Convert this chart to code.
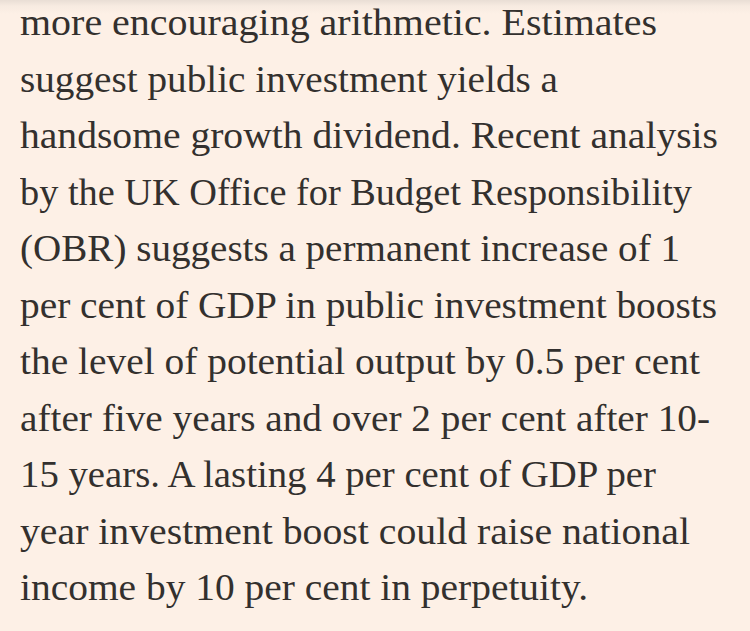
<!DOCTYPE html>
<html>
<head>
<meta charset="utf-8">
<script src="https://cdn.jsdelivr.net/npm/chart.js@4"></script>
<style>
  html, body { margin: 0; padding: 0; }
  body {
    width: 750px; height: 631px; overflow: hidden; position: relative;
    background: linear-gradient(to bottom, #e9ded5 0px, #f7ebe1 6px, #fdf0e6 14px, #fdf0e6 100%);
  }
  #para {
    position: absolute; left: 20px; top: -6px;
    font-family: "Liberation Serif", "Times New Roman", serif;
    font-size: 38px; line-height: 56.5px; color: #33302e;
  }
  .ln { white-space: nowrap; height: 56.5px; }
  .ln span { display: inline-block; transform-origin: 0 50%; }
</style>
</head>
<body>
<div id="para"></div>
<script>
// ─── Content ─────────────────────────────────────────────
const lines = [
  "more encouraging arithmetic. Estimates",
  "suggest public investment yields a",
  "handsome growth dividend. Recent analysis",
  "by the UK Office for Budget Responsibility",
  "(OBR) suggests a permanent increase of 1",
  "per cent of GDP in public investment boosts",
  "the level of potential output by 0.5 per cent",
  "after five years and over 2 per cent after 10-",
  "15 years. A lasting 4 per cent of GDP per",
  "year investment boost could raise national",
  "income by 10 per cent in perpetuity."
];

// right edge of each line in the screenshot (px)
const lineEnds = [657, 558, 718, 692, 680, 717, 700, 710, 656, 690, 588];
const LEFT = 20;

// ─── Render ──────────────────────────────────────────────
const para = document.getElementById("para");
lines.forEach((txt, i) => {
  const row = document.createElement("div");
  row.className = "ln";
  const s = document.createElement("span");
  s.textContent = txt;
  row.appendChild(s);
  para.appendChild(row);
  const w = s.getBoundingClientRect().width;
  s.style.transform = `scaleX(${(lineEnds[i] - LEFT) / w})`;
});
</script>
</body>
</html>
